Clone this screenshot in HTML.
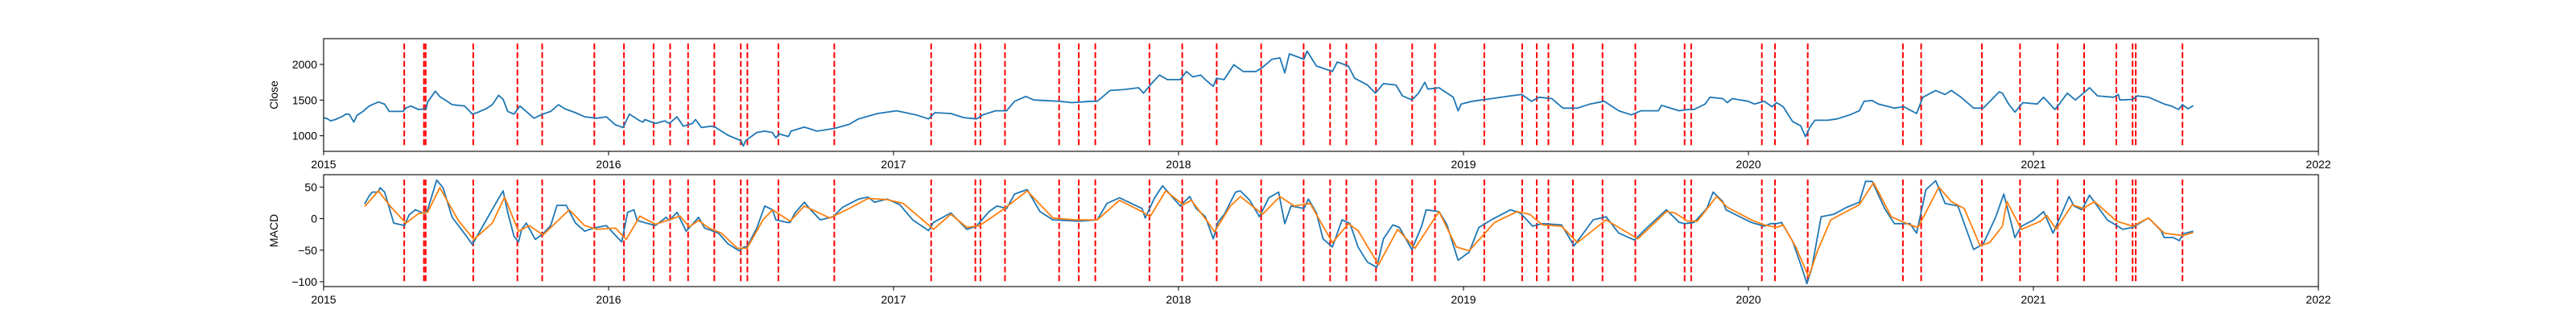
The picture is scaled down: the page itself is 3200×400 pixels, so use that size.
<!DOCTYPE html>
<html><head><meta charset="utf-8"><style>
body{margin:0;background:#fff;}
svg{display:block;font-family:"Liberation Sans","DejaVu Sans",sans-serif;}
</style></head><body>
<svg id="chart" width="3200" height="400" viewBox="0 0 3200 400" xmlns="http://www.w3.org/2000/svg"></svg>
<script>
const closeDates=[2015.0,2015.009,2015.025,2015.041,2015.063,2015.079,2015.09,2015.106,2015.117,2015.138,2015.16,2015.192,2015.214,2015.23,2015.279,2015.289,2015.306,2015.333,2015.36,2015.365,2015.392,2015.408,2015.43,2015.451,2015.495,2015.522,2015.538,2015.57,2015.592,2015.614,2015.63,2015.646,2015.668,2015.689,2015.711,2015.738,2015.77,2015.797,2015.824,2015.846,2015.884,2015.916,2015.959,2015.992,2016.024,2016.051,2016.073,2016.11,2016.121,2016.127,2016.164,2016.197,2016.213,2016.24,2016.262,2016.294,2016.305,2016.326,2016.359,2016.374,2016.419,2016.464,2016.473,2016.481,2016.52,2016.548,2016.575,2016.587,2016.598,2016.631,2016.64,2016.687,2016.732,2016.793,2016.844,2016.877,2016.944,2017.011,2017.079,2017.123,2017.145,2017.201,2017.246,2017.291,2017.313,2017.358,2017.397,2017.425,2017.464,2017.492,2017.581,2017.626,2017.693,2017.715,2017.76,2017.804,2017.86,2017.877,2017.905,2017.933,2017.961,2018.006,2018.028,2018.05,2018.078,2018.094,2018.122,2018.133,2018.16,2018.194,2018.227,2018.272,2018.295,2018.328,2018.356,2018.373,2018.389,2018.44,2018.451,2018.484,2018.54,2018.557,2018.596,2018.618,2018.663,2018.691,2018.719,2018.763,2018.786,2018.819,2018.842,2018.864,2018.875,2018.914,2018.964,2018.981,2018.992,2019.031,2019.098,2019.165,2019.204,2019.238,2019.266,2019.31,2019.349,2019.4,2019.444,2019.494,2019.545,2019.589,2019.623,2019.684,2019.695,2019.757,2019.787,2019.809,2019.848,2019.865,2019.91,2019.926,2019.943,2019.999,2020.021,2020.055,2020.083,2020.099,2020.122,2020.155,2020.183,2020.2,2020.216,2020.233,2020.278,2020.311,2020.356,2020.389,2020.406,2020.434,2020.456,2020.512,2020.545,2020.59,2020.612,2020.657,2020.69,2020.712,2020.746,2020.79,2020.824,2020.88,2020.891,2020.913,2020.935,2020.963,2021.013,2021.036,2021.075,2021.091,2021.119,2021.147,2021.181,2021.197,2021.225,2021.281,2021.298,2021.303,2021.348,2021.365,2021.404,2021.459,2021.485,2021.509,2021.523,2021.542,2021.561];
const closeValues=[1250,1247,1210,1228,1266,1304,1300,1191,1285,1341,1417,1473,1443,1341,1341,1390,1417,1368,1379,1473,1624,1548,1492,1436,1417,1304,1323,1379,1436,1567,1511,1341,1304,1417,1341,1247,1304,1341,1436,1379,1323,1266,1247,1266,1153,1116,1304,1210,1191,1228,1172,1210,1172,1266,1134,1172,1228,1116,1134,1122,1008,932,856,932,1046,1065,1046,970,1027,990,1065,1122,1065,1103,1160,1236,1312,1350,1293,1236,1323,1312,1255,1236,1293,1350,1350,1483,1551,1502,1483,1464,1483,1483,1635,1646,1673,1597,1730,1851,1787,1787,1901,1825,1851,1787,1692,1806,1787,1996,1901,1901,1958,2072,2091,1882,2148,2072,2186,1977,1901,2034,1977,1806,1711,1597,1730,1711,1559,1502,1597,1749,1654,1673,1540,1350,1445,1483,1521,1559,1578,1483,1540,1521,1388,1388,1445,1483,1350,1293,1350,1350,1426,1350,1369,1369,1445,1540,1521,1464,1521,1483,1445,1483,1407,1464,1407,1198,1141,989,1122,1217,1217,1236,1293,1350,1483,1494,1445,1388,1407,1312,1540,1635,1578,1635,1540,1388,1388,1616,1597,1445,1331,1464,1445,1540,1369,1445,1597,1502,1616,1673,1559,1540,1578,1502,1509,1559,1540,1445,1416,1368,1436,1379,1421];
const macdDates=[2015.144,2015.16,2015.171,2015.192,2015.198,2015.214,2015.235,2015.246,2015.284,2015.3,2015.322,2015.354,2015.365,2015.397,2015.419,2015.451,2015.495,2015.522,2015.538,2015.581,2015.614,2015.63,2015.646,2015.668,2015.684,2015.695,2015.711,2015.743,2015.77,2015.797,2015.819,2015.851,2015.884,2015.916,2015.948,2015.992,2016.046,2016.067,2016.089,2016.1,2016.164,2016.202,2016.213,2016.24,2016.272,2016.316,2016.337,2016.386,2016.419,2016.458,2016.475,2016.486,2016.52,2016.548,2016.575,2016.587,2016.626,2016.637,2016.654,2016.687,2016.709,2016.743,2016.788,2016.821,2016.877,2016.911,2016.933,2016.978,2017.022,2017.067,2017.123,2017.14,2017.201,2017.257,2017.291,2017.335,2017.363,2017.397,2017.425,2017.469,2017.514,2017.559,2017.648,2017.715,2017.749,2017.793,2017.872,2017.883,2017.916,2017.944,2018.006,2018.039,2018.062,2018.094,2018.122,2018.138,2018.161,2018.2,2018.217,2018.25,2018.284,2018.317,2018.351,2018.373,2018.395,2018.44,2018.456,2018.484,2018.507,2018.54,2018.574,2018.602,2018.63,2018.663,2018.696,2018.719,2018.752,2018.775,2018.819,2018.853,2018.869,2018.914,2018.942,2018.981,2019.02,2019.054,2019.098,2019.165,2019.199,2019.243,2019.277,2019.344,2019.388,2019.455,2019.5,2019.545,2019.6,2019.645,2019.712,2019.757,2019.776,2019.809,2019.854,2019.876,2019.91,2019.921,2020.01,2020.055,2020.077,2020.099,2020.116,2020.155,2020.188,2020.205,2020.222,2020.255,2020.3,2020.345,2020.389,2020.411,2020.434,2020.478,2020.512,2020.567,2020.59,2020.623,2020.657,2020.69,2020.735,2020.79,2020.824,2020.868,2020.896,2020.935,2020.958,2021.002,2021.036,2021.069,2021.125,2021.142,2021.17,2021.197,2021.259,2021.314,2021.348,2021.404,2021.448,2021.459,2021.491,2021.512,2021.526,2021.561];
const macdValues=[23,36,42,42,49,42,10,-7,-11,6,14,8,14,61,49,2,-24,-41,-28,6,32,44,10,-28,-37,-17,-7,-33,-24,-11,21,21,-7,-20,-15,-11,-37,10,14,-3,-11,2,-3,10,-20,2,-15,-23,-40,-51,-45,-45,-15,20,14,-2,-6,-6,9,26,14,-2,3,18,31,34,26,31,22,-2,-19,-6,9,-17,-12,11,20,16,39,46,11,-2,-4,-2,24,33,16,1,33,52,20,35,16,3,-32,-6,7,42,44,29,3,33,42,-8,20,16,31,9,-32,-45,-2,-8,-45,-69,-77,-32,-10,-14,-49,-12,14,11,-10,-66,-53,-14,-2,14,9,-12,-8,-10,-43,-2,3,-23,-34,-14,14,-6,-8,-6,16,42,27,14,-6,-12,-8,-8,-6,-36,-79,-103,-79,3,7,18,26,59,59,16,-8,-8,-23,46,60,24,20,-49,-40,3,39,-30,-12,-2,11,-23,35,20,14,37,-2,-17,-14,1,-19,-30,-30,-35,-24,-20];
const signalDates=[2015.144,2015.192,2015.235,2015.289,2015.333,2015.365,2015.408,2015.473,2015.527,2015.592,2015.635,2015.684,2015.722,2015.77,2015.862,2015.916,2015.959,2016.024,2016.062,2016.11,2016.164,2016.224,2016.251,2016.283,2016.316,2016.352,2016.396,2016.452,2016.486,2016.542,2016.575,2016.637,2016.687,2016.776,2016.844,2016.911,2016.978,2017.034,2017.089,2017.14,2017.201,2017.257,2017.302,2017.38,2017.469,2017.559,2017.637,2017.715,2017.793,2017.872,2017.9,2017.955,2018.017,2018.045,2018.104,2018.126,2018.182,2018.217,2018.295,2018.356,2018.406,2018.462,2018.54,2018.596,2018.63,2018.702,2018.769,2018.83,2018.914,2018.975,2019.02,2019.109,2019.188,2019.232,2019.277,2019.344,2019.4,2019.5,2019.612,2019.712,2019.742,2019.787,2019.821,2019.888,2019.926,2020.01,2020.055,2020.099,2020.122,2020.166,2020.211,2020.244,2020.289,2020.389,2020.439,2020.501,2020.567,2020.595,2020.634,2020.668,2020.712,2020.757,2020.813,2020.846,2020.891,2020.907,2020.958,2021.025,2021.047,2021.08,2021.136,2021.175,2021.214,2021.292,2021.348,2021.404,2021.459,2021.491,2021.526,2021.561];
const signalValues=[19,44,19,-7,8,10,49,-3,-33,-7,34,-20,-11,-26,14,-11,-17,-15,-33,4,-9,0,4,-13,-3,-15,-23,-47,-47,-2,14,-4,20,1,16,32,30,24,3,-17,7,-14,-11,13,44,1,-2,-2,29,11,3,44,22,29,-6,-21,20,35,7,35,20,24,-38,-8,-19,-73,-17,-47,11,-45,-51,-6,11,7,-10,-12,-38,-2,-32,11,9,-4,-4,35,18,-2,-10,-14,-10,-45,-92,-49,-2,22,57,3,-10,-14,20,50,27,16,-43,-38,-12,27,-17,-4,5,-17,22,16,27,-4,-12,1,-23,-25,-27,-22];
const signalEvents=[2015.283,2015.352,2015.358,2015.525,2015.68,2015.767,2015.95,2016.054,2016.158,2016.216,2016.279,2016.371,2016.464,2016.487,2016.596,2016.792,2017.132,2017.287,2017.305,2017.391,2017.581,2017.65,2017.708,2017.898,2018.013,2018.134,2018.29,2018.439,2018.532,2018.589,2018.693,2018.82,2018.9,2019.073,2019.206,2019.257,2019.298,2019.384,2019.488,2019.603,2019.776,2019.799,2020.047,2020.093,2020.208,2020.542,2020.606,2020.819,2020.953,2021.085,2021.178,2021.291,2021.348,2021.359,2021.523];
const yearTicks=[2015,2016,2017,2018,2019,2020,2021,2022];
const closeTicks=[1000,1500,2000];
const macdTicks=[-100,-50,0,50];

const NS="http://www.w3.org/2000/svg";
const svg=document.getElementById('chart');
const X0=402,X1=2880;
const xs=t=>X0+(t-2015)/7*(X1-X0);
const panels=[
 {name:'close',top:48,bot:188,vmin:782,vmax:2361,ticks:closeTicks,label:'Close'},
 {name:'macd',top:217,bot:356,vmin:-107.7,vmax:69.6,ticks:macdTicks,label:'MACD'}
];
function mk(tag,attrs,parent){const e=document.createElementNS(NS,tag);for(const k in attrs)e.setAttribute(k,attrs[k]);(parent||svg).appendChild(e);return e;}
function fmt(v){return v<0?'\u2212'+(-v):String(v);}
panels.forEach(p=>{
 const ys=v=>p.bot-(v-p.vmin)/(p.vmax-p.vmin)*(p.bot-p.top);
 p.ys=ys;
 const g=mk('g',{});
 
 
 // red event lines
 signalEvents.forEach(t=>{
  const l=mk('line',{x1:xs(t),x2:xs(t),y1:p.top+6,y2:p.bot-6,stroke:'#ff0000','stroke-width':2,'stroke-dasharray':'7.5,3.3'},g);
  
  
 });
 const line=(dates,vals,color,nm)=>{
  const d=dates.map((t,i)=>(i?'L':'M')+xs(t).toFixed(1)+','+ys(vals[i]).toFixed(1)).join('');
  const pth=mk('path',{d:d,fill:'none',stroke:color,'stroke-width':1.8,'stroke-linejoin':'round'},g);
  
  
 };
 if(p.name==='close'){line(closeDates,closeValues,'#1f77b4','close-line');}
 else{line(macdDates,macdValues,'#1f77b4','macd-line');line(signalDates,signalValues,'#ff7f0e','signal-line');}
 const fr=mk('rect',{x:X0,y:p.top,width:X1-X0,height:p.bot-p.top,fill:'none',stroke:'#000','stroke-width':1.1},g);
 
 
 p.ticks.forEach(v=>{
  mk('line',{x1:X0-5,x2:X0,y1:ys(v),y2:ys(v),stroke:'#000','stroke-width':1},g);
  const tx=mk('text',{x:X0-8,y:ys(v)+5,'text-anchor':'end','font-size':14,fill:'#000'},g);
  tx.textContent=fmt(v);
  
  
 });
 yearTicks.forEach(yr=>{
  mk('line',{x1:xs(yr),x2:xs(yr),y1:p.bot,y2:p.bot+5,stroke:'#000','stroke-width':1},g);
  const tx=mk('text',{x:xs(yr),y:p.bot+21,'text-anchor':'middle','font-size':14,fill:'#000'},g);
  tx.textContent=String(yr);
  
  
 });
 const cy=(p.top+p.bot)/2;
 const lab=mk('text',{x:345,y:cy,'text-anchor':'middle','font-size':14,fill:'#000',transform:'rotate(-90 345 '+cy+')'},g);
 lab.textContent=p.label;
 
 
});
</script>
</body></html>
